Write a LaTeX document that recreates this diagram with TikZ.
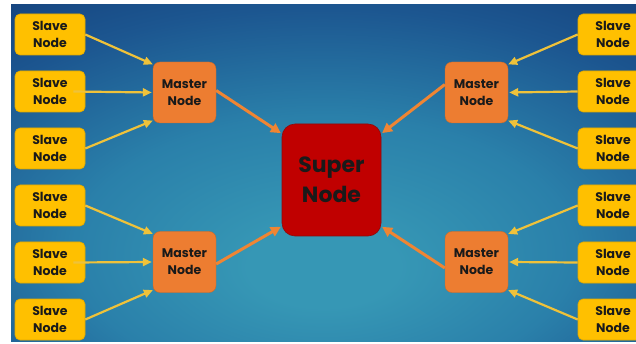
\documentclass[tikz,border=0pt]{standalone}
\usepackage{fontspec}
\setmainfont{Poppins}
\usetikzlibrary{arrows.meta}
\definecolor{slavefill}{HTML}{FFC000}
\definecolor{slavedraw}{HTML}{E0A800}
\definecolor{masterfill}{HTML}{ED7D31}
\definecolor{superfill}{HTML}{C00000}
\definecolor{superdraw}{HTML}{8E0A0A}
\definecolor{yarrow}{HTML}{EFC23A}
\definecolor{oarrow}{HTML}{EF8533}
\definecolor{txt}{HTML}{1A1A1A}
\definecolor{cin}{HTML}{3697B5}
\definecolor{cb}{HTML}{2A80AA}
\definecolor{cmid}{HTML}{1C5690}
\definecolor{cout}{HTML}{0F306C}
\pgfdeclareradialshading{bgshade}{\pgfpoint{0bp}{-15bp}}{color(0bp)=(cin); color(6bp)=(cin); color(20bp)=(cb); color(34bp)=(cmid); color(52bp)=(cout); color(90bp)=(cout)}
\tikzset{
  slave/.style={rectangle, rounded corners=5pt, fill=slavefill, draw=slavedraw, line width=0.6pt,
    minimum width=70pt, minimum height=41pt, inner sep=0pt, align=center, text=txt,
    font=\fontsize{12.5}{16.5}\selectfont\bfseries},
  master/.style={rectangle, rounded corners=7pt, fill=masterfill, draw=masterfill!85!black, line width=0.4pt,
    minimum width=63pt, minimum height=61pt, inner sep=0pt, align=center, text=txt,
    font=\fontsize{12.5}{17}\selectfont\bfseries},
  supernode/.style={rectangle, rounded corners=13pt, fill=superfill, draw=superdraw, line width=0.6pt,
    minimum width=99pt, minimum height=112pt, inner sep=0pt, align=center, text=txt,
    font=\fontsize{22}{30}\selectfont\bfseries},
  yarr/.style={draw=yarrow, line width=2.2pt, -{Triangle[length=9pt,width=8pt]}, shorten >=1pt},
  oarr/.style={draw=oarrow, line width=3pt, -{Triangle[length=10pt,width=10pt]}, shorten >=1pt}
}
\begin{document}
\begin{tikzpicture}[x=1pt,y=-1pt]
\useasboundingbox (0,0) rectangle (636,344);
\fill[white] (0,0) rectangle (636,344);
\begin{scope}
\clip (11,5) rectangle (636,341);
\shade[shading=bgshade] (11,5) rectangle (636,341);
% super
\node[supernode] (sup) at (331.5,180) {Super\\Node};
% masters
\node[master] (ml1) at (184.5,92.5) {Master\\Node};
\node[master] (ml2) at (184.5,262) {Master\\Node};
\node[master] (mr1) at (476.5,92.5) {Master\\Node};
\node[master] (mr2) at (476.5,262) {Master\\Node};
% left slaves
\node[slave] (ls1) at (50,34.5) {Slave\\Node};
\node[slave] (ls2) at (50,91.5) {Slave\\Node};
\node[slave] (ls3) at (50,148.5) {Slave\\Node};
\node[slave] (ls4) at (50,205.5) {Slave\\Node};
\node[slave] (ls5) at (50,262.5) {Slave\\Node};
\node[slave] (ls6) at (50,319.5) {Slave\\Node};
% right slaves
\node[slave] (rs1) at (613,34.5) {Slave\\Node};
\node[slave] (rs2) at (613,91.5) {Slave\\Node};
\node[slave] (rs3) at (613,148.5) {Slave\\Node};
\node[slave] (rs4) at (613,205.5) {Slave\\Node};
\node[slave] (rs5) at (613,262.5) {Slave\\Node};
\node[slave] (rs6) at (613,319.5) {Slave\\Node};
% slave -> master arrows
\draw[yarr] (ls1.east) -- ([shift={(1,3)}]ml1.north west);
\draw[yarr] ([xshift=-12pt]ls2.east) -- (ml1.west);
\draw[yarr] (ls3.east) -- ([shift={(1,-3)}]ml1.south west);
\draw[yarr] (ls4.east) -- ([shift={(1,3)}]ml2.north west);
\draw[yarr] ([xshift=-12pt]ls5.east) -- (ml2.west);
\draw[yarr] (ls6.east) -- ([shift={(1,-3)}]ml2.south west);
\draw[yarr] (rs1.west) -- ([shift={(-1,3)}]mr1.north east);
\draw[yarr] (rs2.west) -- (mr1.east);
\draw[yarr] (rs3.west) -- ([shift={(-1,-3)}]mr1.south east);
\draw[yarr] (rs4.west) -- ([shift={(-1,3)}]mr2.north east);
\draw[yarr] (rs5.west) -- (mr2.east);
\draw[yarr] (rs6.west) -- ([shift={(-1,-3)}]mr2.south east);
% master -> super arrows
\draw[oarr] ([yshift=2pt]ml1.east) -- ([shift={(0,10)}]sup.north west);
\draw[oarr] ([yshift=8pt]mr1.west) -- ([shift={(0,10)}]sup.north east);
\draw[oarr] ([yshift=-2pt]ml2.east) -- ([shift={(0,-10)}]sup.south west);
\draw[oarr] ([yshift=-6pt]mr2.west) -- ([shift={(0,-10)}]sup.south east);
\end{scope}
\end{tikzpicture}
\end{document}
